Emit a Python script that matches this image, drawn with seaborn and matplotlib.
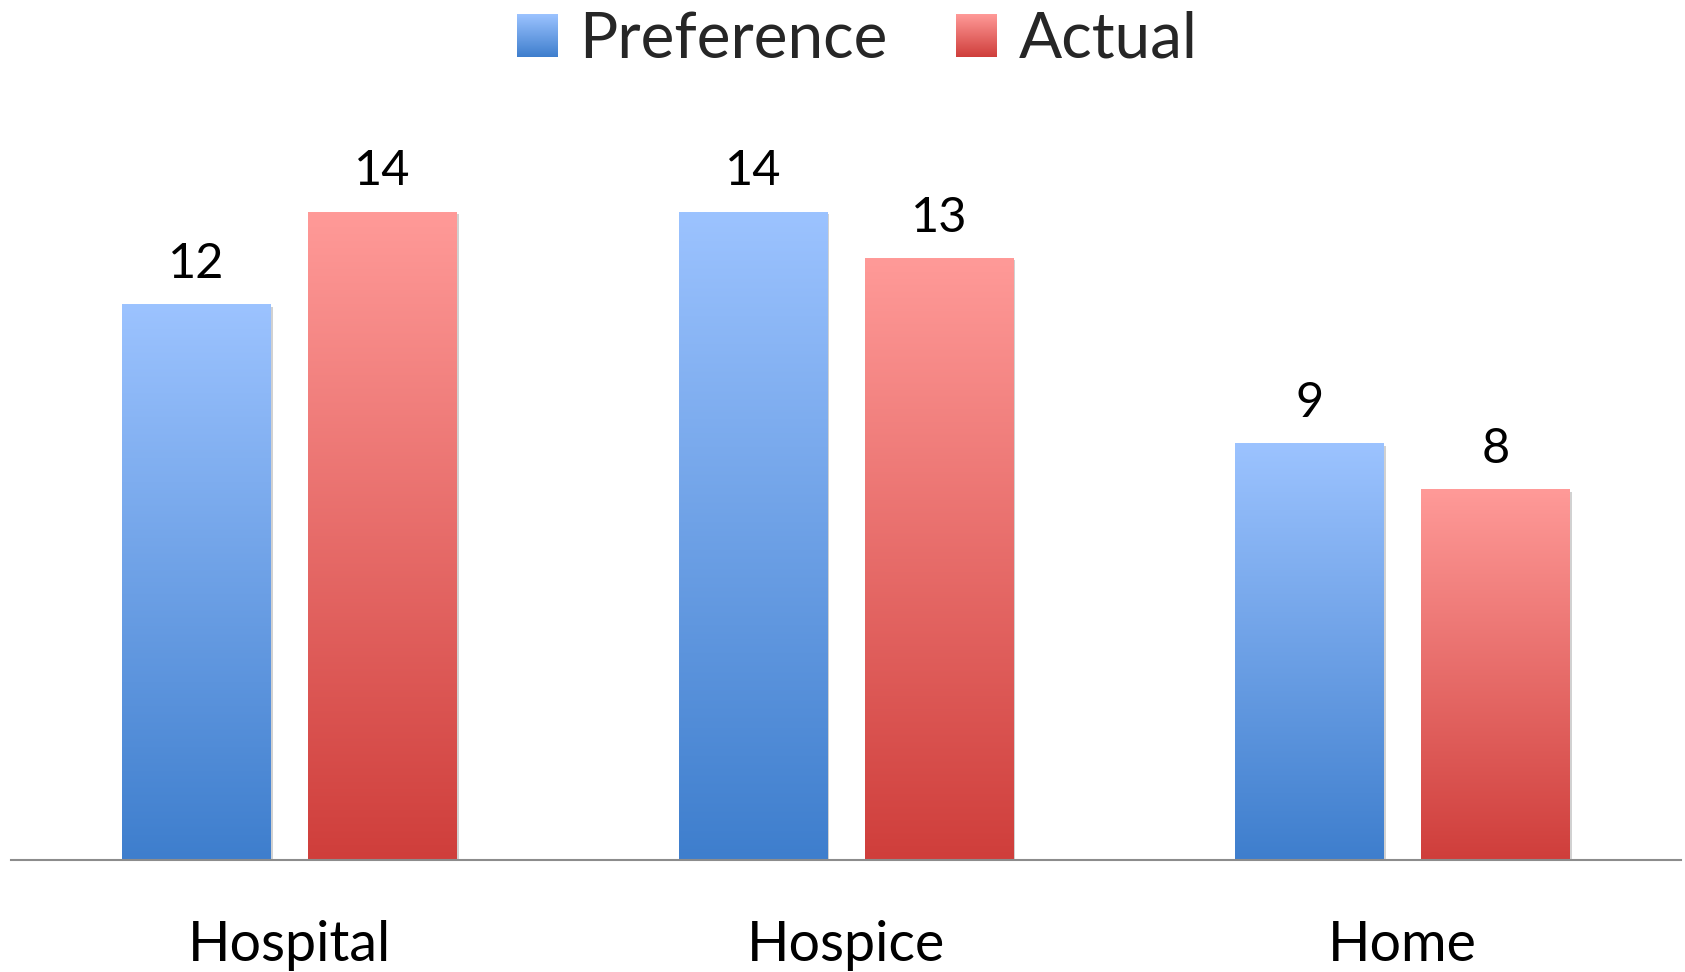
import numpy as np
import pandas as pd
import matplotlib
matplotlib.use("Agg")
import matplotlib.pyplot as plt
import matplotlib.patheffects as pe
from matplotlib.colors import LinearSegmentedColormap
from matplotlib.patches import Patch
import seaborn as sns

# Place of death: where people wanted to die vs. where they did
categories = ["Hospital", "Hospice", "Home"]
series_names = ["Preference", "Actual"]
preference = [12, 14, 9]
actual = [14, 13, 8]

df = pd.DataFrame({
    "place": categories * 2,
    "series": [series_names[0]] * len(categories) + [series_names[1]] * len(categories),
    "count": preference + actual,
})

# light (top) -> dark (bottom) vertical gradient for each series
gradients = {
    "Preference": ("#9CC3FF", "#3E7ECD"),
    "Actual": ("#FF9A98", "#CF3E3B"),
}
cmaps = {k: LinearSegmentedColormap.from_list(k, [v[1], v[0]]) for k, v in gradients.items()}
ramp = np.linspace(0, 1, 256).reshape(-1, 1)

sns.set_theme(style="white")
plt.rcParams["font.family"] = ["Lato", "DejaVu Sans"]

W, H = 1685, 972
fig = plt.figure(figsize=(W / 100, H / 100), dpi=100)
ax = fig.add_axes([11 / W, (H - 860) / H, 1670 / W, 833 / H])

sns.barplot(
    data=df, x="place", y="count", hue="series",
    order=categories, hue_order=series_names,
    palette=[gradients[s][1] for s in series_names],
    width=0.668, gap=0.2, errorbar=None, legend=False, ax=ax,
)

shadow = [pe.SimplePatchShadow(offset=(1.5, -1.5), shadow_rgbFace="#000000", alpha=0.18), pe.Normal()]
for name, container in zip(series_names, ax.containers):
    for bar in container:
        x0, y0 = bar.get_x(), bar.get_y()
        w, h = bar.get_width(), bar.get_height()
        bar.set_path_effects(shadow)
        bar.set_edgecolor("none")
        ax.imshow(ramp, extent=[x0, x0 + w, y0, y0 + h], origin="lower",
                  aspect="auto", cmap=cmaps[name], zorder=bar.get_zorder() + 0.1,
                  interpolation="bilinear")
    ax.bar_label(container, fmt="%d", padding=13.5, fontsize=35, color="black")

ax.set_xlim(-0.5, 2.5)
ax.set_ylim(0, 18)
ax.set_xlabel("")
ax.set_ylabel("")
ax.set_yticks([])
for side in ("left", "right", "top"):
    ax.spines[side].set_visible(False)
ax.spines["bottom"].set_color("#8C8C8C")
ax.spines["bottom"].set_linewidth(1.5)
ax.spines["bottom"].set_zorder(5)
ax.tick_params(axis="x", length=0, pad=43, labelsize=40, colors="black")
ax.patch.set_visible(False)

handles = [Patch(facecolor=gradients[s][1], label=s) for s in series_names]
leg = fig.legend(
    handles=handles, loc="upper center", bbox_to_anchor=(0.5087, 0.992),
    ncol=2, frameon=False, fontsize=46, handlelength=0.64, handleheight=0.64,
    handletextpad=0.34, columnspacing=1.06, borderaxespad=0, borderpad=0.05,
)

# paint the same gradient into the legend swatches
fig.canvas.draw()
for name, patch in zip(series_names, leg.get_patches()):
    bb = patch.get_window_extent().transformed(fig.transFigure.inverted())
    sw = fig.add_axes([bb.x0, bb.y0, bb.width, bb.height])
    sw.imshow(ramp, origin="lower", aspect="auto", cmap=cmaps[name], extent=[0, 1, 0, 1])
    sw.set_axis_off()
    patch.set_alpha(0)

fig.savefig("out.png", dpi=100)
